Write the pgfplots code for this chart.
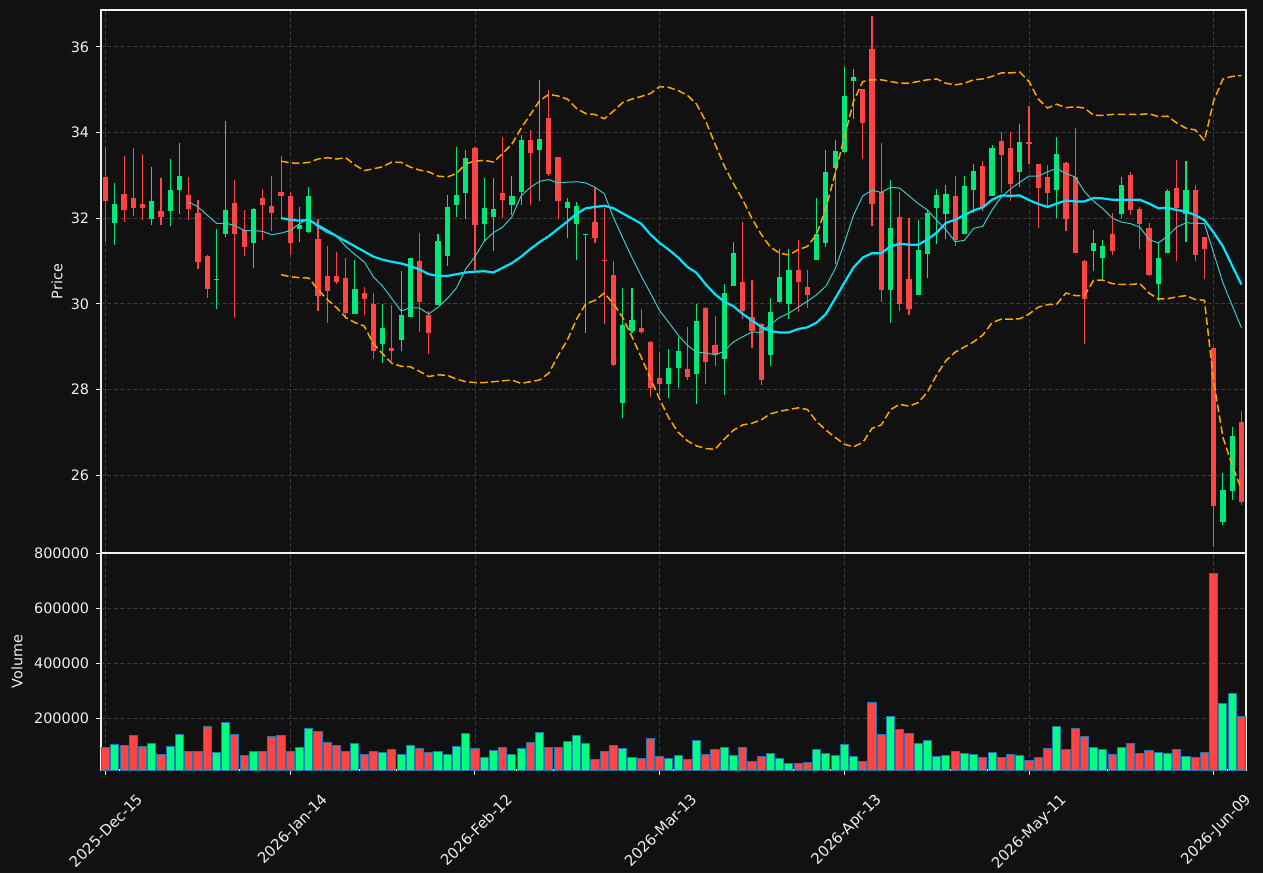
\documentclass[border=0pt]{standalone}
\usepackage{fontspec}
\setmainfont{DejaVu Sans}
\usepackage{pgfplots}
\usepackage{pgfplotstable}
\pgfplotsset{compat=1.18}
\definecolor{bg}{HTML}{111111}
\definecolor{gridc}{HTML}{3A3A3A}
\definecolor{candG}{HTML}{00E87A}
\definecolor{candR}{HTML}{FF4444}
\definecolor{volG}{HTML}{00FF80}
\definecolor{edgeB}{HTML}{1F77B4}
\definecolor{maThick}{HTML}{00E5FF}
\definecolor{maThin}{HTML}{3CC8C8}
\definecolor{bbOr}{HTML}{FFA500}
\definecolor{txt}{HTML}{F0F0F0}

\pgfplotstableread{
i o h l c v
1 31.89 32.82 31.38 32.33 105200
5 31.99 33.20 31.83 32.39 108800
7 32.17 33.37 31.81 32.65 96700
8 32.65 33.76 32.09 32.98 141600
12 30.55 31.74 29.87 30.57 76000
13 31.64 34.26 31.55 32.19 185400
16 31.41 32.23 30.83 32.21 79600
21 31.75 32.25 31.44 31.84 94200
22 31.68 32.72 31.66 32.52 163500
27 29.77 31.03 29.76 30.34 108800
30 29.05 30.00 28.62 29.44 76000
32 29.15 30.76 28.89 29.74 68700
33 29.68 31.07 29.68 31.07 101500
36 29.96 31.62 29.96 31.46 79600
37 31.12 32.53 30.89 32.26 68700
38 32.31 33.67 32.03 32.54 97900
39 32.59 33.60 31.99 33.40 145300
41 31.87 32.93 31.44 32.23 57800
42 32.03 32.93 31.23 32.21 83300
44 32.30 32.99 32.07 32.52 68700
45 32.61 33.93 32.30 33.82 90600
47 33.59 35.23 32.39 33.84 148900
50 32.24 32.47 31.54 32.38 116100
51 31.87 32.38 31.03 32.28 138000
52 31.61 31.64 29.31 31.63 108800
56 27.69 30.37 27.33 29.51 90600
57 29.37 30.37 29.31 29.62 57800
61 28.12 28.95 27.80 28.50 54100
62 28.51 29.23 28.04 28.90 65000
64 28.37 30.00 27.65 29.60 119800
67 28.70 30.45 27.86 30.25 94200
68 30.42 31.44 30.42 31.19 65000
72 28.80 30.13 28.54 29.81 72300
73 30.05 31.28 30.02 30.63 54100
74 30.00 31.28 29.64 30.79 35900
77 31.02 32.47 31.02 31.62 86900
78 31.43 33.59 31.32 33.07 72300
79 33.16 33.83 30.94 33.56 65000
80 33.54 35.54 33.53 34.85 105200
81 35.21 35.49 34.32 35.29 61400
85 30.31 32.88 29.55 31.77 207300
88 30.21 31.96 30.21 31.26 108800
89 31.17 32.19 30.59 32.12 119800
90 32.24 32.68 31.39 32.54 61400
91 32.10 32.77 31.51 32.56 65000
93 31.64 32.99 31.64 32.75 72300
94 32.66 33.26 32.11 33.10 68700
96 32.52 33.71 32.52 33.63 76000
99 33.08 34.19 32.72 33.77 65000
103 32.66 33.89 32.01 33.50 170800
107 31.24 31.72 30.77 31.42 94200
108 31.06 31.50 30.53 31.34 86900
110 32.09 32.95 32.01 32.77 94200
114 30.45 31.42 30.06 31.07 76000
115 31.19 32.69 31.19 32.63 72300
117 32.10 33.33 31.45 32.65 61400
121 24.90 26.05 24.83 25.66 254700
122 25.62 27.12 25.42 26.92 291200
}\upT

\pgfplotstableread{
i o h l c v
0 32.96 33.65 31.45 32.39 94200
2 32.56 33.44 31.90 32.18 101500
3 32.47 33.63 32.04 32.24 138000
4 32.33 33.50 31.95 32.24 96700
6 32.17 32.93 31.84 32.03 68700
9 32.54 32.97 31.96 32.21 79600
10 32.12 32.43 30.82 30.98 79600
11 31.11 31.13 30.14 30.35 170800
14 32.35 32.90 29.66 31.62 141600
15 31.73 32.18 31.11 31.33 65000
17 32.47 32.69 31.48 32.31 79600
18 32.28 32.99 31.69 32.13 134300
19 32.60 33.46 32.01 32.52 138000
20 32.52 32.60 31.15 31.43 79600
23 31.51 31.97 29.83 30.17 152600
24 30.65 31.36 29.54 30.29 112500
25 30.65 31.20 30.45 30.50 101500
26 30.60 31.08 29.72 29.78 79600
28 30.25 30.40 29.74 30.10 68700
29 29.99 30.24 28.71 28.89 79600
31 28.97 29.96 28.66 28.89 86900
34 31.00 31.65 29.34 30.05 90600
35 29.74 29.83 28.82 29.31 76000
40 33.63 33.65 30.79 31.84 90600
43 32.58 33.90 32.01 32.42 94200
46 33.82 34.05 32.31 33.53 112500
48 34.33 35.00 32.98 33.03 94200
49 33.42 33.43 31.99 32.40 94200
53 31.91 32.70 31.41 31.53 50500
54 31.03 32.23 29.52 30.99 79600
55 30.68 30.99 28.54 28.58 101500
58 29.44 29.88 29.30 29.33 54100
59 29.11 29.12 27.82 28.03 127100
60 28.26 28.87 27.86 28.12 61400
63 28.48 29.45 28.21 28.30 50500
65 29.91 29.92 28.12 28.63 68700
66 29.04 29.71 28.54 28.81 86900
69 30.51 31.92 29.64 29.84 94200
70 29.70 30.55 28.97 29.36 43200
71 29.53 29.55 28.10 28.21 61400
75 30.79 31.49 29.80 30.50 35900
76 30.39 30.79 29.91 30.21 39500
82 35.01 35.02 33.38 34.23 43200
83 35.94 36.71 31.81 32.34 258400
84 32.61 33.76 30.03 30.31 141600
86 32.02 32.60 29.82 30.00 159900
87 30.58 32.00 29.73 29.87 145300
92 32.52 32.99 31.36 31.49 79600
95 33.21 33.34 32.17 32.27 57800
97 33.80 34.00 32.59 33.48 57800
98 33.63 34.00 32.41 32.79 68700
100 33.77 34.61 33.26 33.74 46800
101 33.26 33.27 31.76 32.71 57800
102 32.96 33.23 32.29 32.59 90600
104 33.29 33.30 31.70 31.99 86900
105 32.96 34.11 31.18 31.19 163500
106 31.00 31.02 29.07 30.12 134300
109 31.63 32.13 31.15 31.24 68700
111 33.00 33.07 32.07 32.18 108800
112 32.21 32.25 31.27 31.87 72300
113 31.77 31.89 30.64 30.68 83300
116 32.70 33.35 31.00 32.24 86900
118 32.65 32.77 31.00 31.15 57800
119 31.56 31.57 30.57 31.27 76000
120 28.97 28.98 24.31 25.27 728900
123 27.25 27.49 25.30 25.37 204900
}\downT

\pgfplotstableread{
i m
9 32.38
10 32.26
11 32.07
12 31.88
13 31.88
14 31.83
15 31.71
16 31.71
17 31.69
18 31.61
19 31.65
20 31.71
21 31.87
22 31.99
23 31.79
24 31.66
25 31.58
26 31.34
27 31.15
28 30.98
29 30.63
30 30.41
31 30.12
32 29.83
33 29.91
34 29.90
35 29.76
36 29.92
37 30.12
38 30.37
39 30.81
40 31.10
41 31.46
42 31.66
43 31.79
44 32.03
45 32.52
46 32.72
47 32.86
48 32.90
49 32.82
50 32.84
51 32.85
52 32.82
53 32.72
54 32.57
55 32.01
56 31.54
57 31.08
58 30.65
59 30.25
60 29.84
61 29.56
62 29.27
63 29.03
64 28.87
65 28.85
66 28.81
67 28.89
68 29.11
69 29.23
70 29.34
71 29.33
72 29.52
73 29.68
74 29.78
75 29.92
76 30.06
77 30.21
78 30.41
79 30.81
80 31.42
81 32.07
82 32.52
83 32.65
84 32.60
85 32.72
86 32.70
87 32.52
88 32.34
89 32.19
90 31.95
91 31.73
92 31.45
93 31.48
94 31.76
95 31.81
96 32.19
97 32.49
98 32.68
99 32.84
100 32.98
101 32.98
102 33.08
103 33.16
104 33.04
105 32.96
106 32.62
107 32.39
108 32.22
109 32.00
110 31.91
111 31.87
112 31.79
113 31.50
114 31.42
115 31.58
116 31.79
117 31.89
118 31.88
119 31.87
120 31.18
121 30.49
122 29.96
123 29.44
}\maTen

\pgfplotstableread{
i m u lo
19 32.00 33.33 30.68
20 31.96 33.29 30.63
21 31.94 33.28 30.61
22 31.96 33.30 30.60
23 31.83 33.38 30.33
24 31.71 33.41 30.10
25 31.58 33.38 29.91
26 31.46 33.41 29.68
27 31.34 33.24 29.56
28 31.22 33.11 29.48
29 31.10 33.15 29.07
30 31.03 33.20 28.83
31 30.98 33.31 28.61
32 30.94 33.30 28.54
33 30.88 33.19 28.53
34 30.80 33.12 28.42
35 30.69 33.08 28.30
36 30.65 32.98 28.34
37 30.65 32.96 28.33
38 30.69 33.04 28.24
39 30.73 33.27 28.18
40 30.75 33.33 28.16
41 30.76 33.35 28.16
42 30.73 33.31 28.18
43 30.84 33.51 28.20
44 30.95 33.73 28.22
45 31.10 34.10 28.14
46 31.28 34.42 28.18
47 31.44 34.74 28.22
48 31.58 34.89 28.38
49 31.75 34.85 28.79
50 31.92 34.78 29.15
51 32.10 34.56 29.64
52 32.23 34.44 30.00
53 32.26 34.42 30.08
54 32.29 34.32 30.25
55 32.23 34.50 30.00
56 32.11 34.70 29.68
57 31.99 34.78 29.23
58 31.87 34.84 28.75
59 31.62 34.91 28.26
60 31.42 35.07 27.77
61 31.26 35.05 27.33
62 31.08 34.98 27.00
63 30.86 34.87 26.80
64 30.72 34.66 26.68
65 30.45 34.26 26.62
66 30.22 33.73 26.60
67 30.05 33.22 26.84
68 29.94 32.80 27.05
69 29.76 32.43 27.17
70 29.61 31.99 27.21
71 29.46 31.62 27.29
72 29.36 31.32 27.43
73 29.33 31.18 27.49
74 29.33 31.14 27.53
75 29.41 31.26 27.57
76 29.45 31.34 27.53
77 29.56 31.62 27.25
78 29.76 32.23 27.05
79 30.12 33.04 26.88
80 30.49 33.89 26.72
81 30.85 34.73 26.66
82 31.08 35.19 26.76
83 31.18 35.23 27.09
84 31.18 35.23 27.17
85 31.34 35.19 27.53
86 31.40 35.15 27.65
87 31.38 35.15 27.61
88 31.38 35.19 27.69
89 31.50 35.23 27.94
90 31.66 35.25 28.34
91 31.89 35.15 28.67
92 31.96 35.11 28.87
93 32.07 35.15 28.99
94 32.18 35.23 29.11
95 32.25 35.25 29.27
96 32.43 35.31 29.56
97 32.53 35.39 29.64
98 32.52 35.39 29.64
99 32.53 35.41 29.65
100 32.42 35.19 29.76
101 32.33 34.78 29.92
102 32.26 34.57 29.98
103 32.34 34.66 29.99
104 32.41 34.58 30.25
105 32.39 34.60 30.19
106 32.39 34.57 30.19
107 32.47 34.40 30.55
108 32.46 34.40 30.55
109 32.43 34.42 30.47
110 32.43 34.42 30.45
111 32.43 34.42 30.45
112 32.43 34.42 30.47
113 32.34 34.44 30.25
114 32.23 34.37 30.11
115 32.24 34.38 30.12
116 32.19 34.22 30.16
117 32.15 34.10 30.19
118 32.07 34.06 30.10
119 31.95 33.81 30.08
120 31.66 34.74 28.18
121 31.34 35.25 26.88
122 30.89 35.31 26.23
123 30.45 35.33 25.67
}\maBB

\pgfplotsset{
  common/.style={
    scale only axis, width=572.5pt,
    xmin=-0.5, xmax=123.5,
    axis background/.style={fill=bg},
    axis line style={txt, line width=0.6pt},
    tick style={txt, line width=0.5pt},
    major tick length=2.4pt,
    tick align=outside,
    tick pos=left,
    grid=major,
    major grid style={gridc, dash pattern=on 2pt off 1.2pt, line width=0.4pt},
    tick label style={font=\fontsize{7.2}{8.6}\selectfont, color=txt},
    /pgf/number format/assume math mode=true,
  },
  wick/.style={draw=none, mark=none, forget plot,
    error bars/.cd, y dir=plus, y explicit, error mark=none,
    error bar style={draw=#1, line width=0.55pt}},
  body/.style={draw=none, mark=none, forget plot,
    error bars/.cd, y dir=plus, y explicit, error mark=none,
    error bar style={draw=#1, line width=2.6pt}},
}

\begin{document}
\begin{tikzpicture}
\useasboundingbox (0,0) rectangle (631.5pt,436.5pt);
\fill[bg] (0,0) rectangle (631.5pt,436.5pt);

\begin{axis}[common,
  at={(50.5pt,160pt)}, anchor=south west, height=271.5pt,
  ymin=24.18, ymax=36.86,
  ytick={26,28,30,32,34,36},
  xtick={0,20,40,60,80,100,120}, xticklabels={},
  xtick style={draw=none},
  ylabel={Price},
  every axis y label/.style={at={(axis description cs:0,0.5)}, xshift=-22pt, rotate=90, anchor=center, font=\fontsize{7.2}{8.6}\selectfont, text=txt},
]
\addplot[wick=candR] table[x=i, y=l, y error expr=\thisrow{h}-\thisrow{l}] {\downT};
\addplot[wick=candG] table[x=i, y=l, y error expr=\thisrow{h}-\thisrow{l}] {\upT};
\addplot[body=candR] table[x=i, y=c, y error expr=\thisrow{o}-\thisrow{c}] {\downT};
\addplot[body=candG] table[x=i, y=o, y error expr=\thisrow{c}-\thisrow{o}] {\upT};
\addplot[maThin, line width=0.5pt] table[x=i, y=m] {\maTen};
\addplot[maThick, line width=1.1pt] table[x=i, y=m] {\maBB};
\addplot[bbOr, line width=0.75pt, dash pattern=on 3.8pt off 1.7pt] table[x=i, y=u] {\maBB};
\addplot[bbOr, line width=0.75pt, dash pattern=on 3.8pt off 1.7pt] table[x=i, y=lo] {\maBB};
\end{axis}

\begin{axis}[common,
  at={(50.5pt,51.5pt)}, anchor=south west, height=108.5pt,
  ymin=11500, ymax=801800,
  ytick={200000,400000,600000,800000},
  yticklabels={200000,400000,600000,800000},
  scaled y ticks=false,
  xtick={0,20,40,60,80,100,120},
  xticklabels={2025-Dec-15,2026-Jan-14,2026-Feb-12,2026-Mar-13,2026-Apr-13,2026-May-11,2026-Jun-09},
  xticklabel style={xshift=15pt, yshift=-4pt, rotate=45, anchor=north east, font=\fontsize{7.4}{8.8}\selectfont},
  ylabel={Volume},
  every axis y label/.style={at={(axis description cs:0,0.5)}, xshift=-42pt, rotate=90, anchor=center, font=\fontsize{7.2}{8.6}\selectfont, text=txt},
]
\addplot[ybar, bar width=0.88, bar shift=0pt, fill=candR, draw=edgeB, line width=0.5pt] table[x=i, y=v] {\downT};
\addplot[ybar, bar width=0.88, bar shift=0pt, fill=volG, draw=edgeB, line width=0.5pt] table[x=i, y=v] {\upT};
\end{axis}
\end{tikzpicture}
\end{document}
